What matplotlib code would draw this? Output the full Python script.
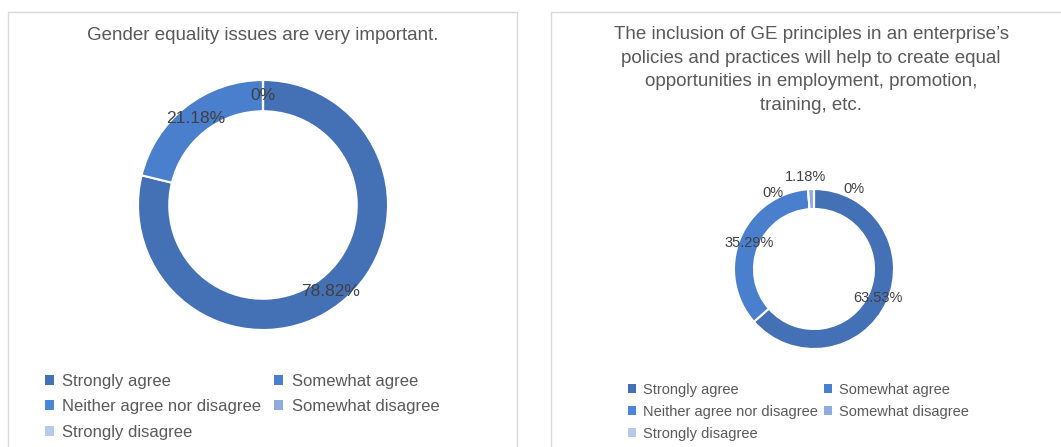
import numpy as np
import matplotlib.pyplot as plt
from matplotlib.patches import Rectangle, Patch

plt.rcParams['font.family'] = ['Liberation Sans', 'DejaVu Sans']

categories = ["Strongly agree", "Somewhat agree", "Neither agree nor disagree",
              "Somewhat disagree", "Strongly disagree"]
colors = ["#4470b6", "#4a7fcd", "#4b87d9", "#8fabdf", "#b8cae9"]

title_left = "Gender equality issues are very important."
values_left = [78.82, 21.18, 0, 0, 0]

title_right = ("The inclusion of GE principles in an enterprise\u2019s\n"
               "policies and practices will help to create equal\n"
               "opportunities in employment, promotion,\n"
               "training, etc.")
values_right = [63.53, 35.29, 0, 1.18, 0]

W, H = 1061, 447
fig = plt.figure(figsize=(W / 100, H / 100), dpi=100)


def px_box(x0, y0, x1, y1):
    # pixel box (top-left origin) -> figure fraction rect
    return [x0 / W, 1 - y1 / H, (x1 - x0) / W, (y1 - y0) / H]


# chart frames
for x0, x1 in [(8, 517), (551, 1075)]:
    l, b, w, h = px_box(x0, 12, x1, 470)
    fig.patches.append(Rectangle((l, b), w, h, transform=fig.transFigure,
                                 fill=False, edgecolor="#d9d9d9", lw=1))


def donut(cx, cy, r, values, fs, offsets=None):
    ax = fig.add_axes(px_box(cx - r, cy - r, cx + r, cy + r))
    ax.pie(values, colors=colors, startangle=90, counterclock=False,
           radius=1, wedgeprops=dict(width=0.25, edgecolor="white", lw=1.5))
    ax.set_xlim(-1, 1)
    ax.set_ylim(-1, 1)
    ax.set_aspect("equal")
    ax.axis("off")
    ends = np.cumsum(values)
    seen = set()
    for i, v in enumerate(values):
        mid = (ends[i] - v / 2) / sum(values) * 2 * np.pi
        x, y = 0.875 * np.sin(mid), 0.875 * np.cos(mid)
        key = (round(x, 3), round(y, 3))
        dx, dy = offsets[i] if offsets else (0, 0)
        if key in seen and (dx, dy) == (0, 0):
            continue
        seen.add(key)
        txt = f"{v:.2f}%" if v % 1 else f"{v:.0f}%"
        ax.annotate(txt, (x, y),
                    xytext=(dx * 0.72, -dy * 0.72), textcoords="offset points",
                    ha="center", va="center", fontsize=fs, color="#404040",
                    annotation_clip=False)
    return ax


donut(263, 205, 125, values_left, 12.5)
donut(814, 269, 80, values_right, 10.5,
      offsets=[(0, 0), (0, 0), (-36, -6), (-6, -22), (40, -10)])

fig.text(263 / W, 1 - 36 / H, title_left, ha="center", va="center",
         fontsize=13.5, color="#595959")
fig.text(811 / W, 1 - 70 / H, title_right, ha="center", va="center",
         fontsize=13.5, color="#595959", linespacing=1.52)

# legends, reordered so they fill row by row
order = [0, 2, 4, 1, 3]
handles = [Patch(facecolor=colors[i], edgecolor="none") for i in order]
labels = [categories[i] for i in order]

fig.legend(handles, labels, ncol=2, loc="upper left",
           bbox_to_anchor=(45 / W, 1 - 374 / H), frameon=False,
           fontsize=12, labelcolor="#595959", handlelength=0.55,
           handleheight=0.55, handletextpad=0.5, columnspacing=0.75,
           labelspacing=0.62, borderaxespad=0, borderpad=0)
fig.legend(handles, labels, ncol=2, loc="upper left",
           bbox_to_anchor=(628 / W, 1 - 383 / H), frameon=False,
           fontsize=10.5, labelcolor="#595959", handlelength=0.55,
           handleheight=0.55, handletextpad=0.5, columnspacing=0.4,
           labelspacing=0.55, borderaxespad=0, borderpad=0)

fig.savefig("out.png", dpi=100)
